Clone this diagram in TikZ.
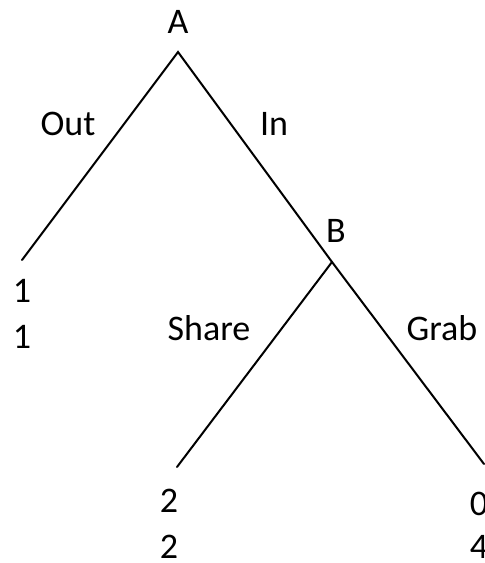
\documentclass[tikz,border=0pt]{standalone}
\usepackage{fontspec}
\setmainfont{Carlito}
\begin{document}
\begin{tikzpicture}[x=1pt,y=-1pt,
  edge/.style={line width=2pt,line cap=round},
  lbl/.style={inner sep=0pt,anchor=base,font=\fontsize{36}{40}\selectfont}]
\useasboundingbox (0,0) rectangle (485,563);
\coordinate (root) at (178,52);
\coordinate (bnode) at (332,262);
\coordinate (outend) at (22,260);
\coordinate (shareend) at (177,467);
\coordinate (grabend) at (484,464);
\draw[edge] (outend) -- (root) -- (bnode) -- (grabend);
\draw[edge] (bnode) -- (shareend);
\node[lbl] (la) at (178,33) {A};
\node[lbl] (lout) at (68,135) {Out};
\node[lbl] (lin) at (274,135) {In};
\node[lbl] (lb) at (336,242) {B};
\node[lbl] (o1) at (22,302) {1};
\node[lbl] (o2) at (22,348) {1};
\node[lbl] (lshare) at (209,340) {Share};
\node[lbl] (lgrab) at (442,340) {Grab};
\node[lbl] (s1) at (169,512) {2};
\node[lbl] (s2) at (169,558) {2};
\node[lbl] (g1) at (479,515) {0};
\node[lbl] (g2) at (479,558) {4};
\end{tikzpicture}
\end{document}
